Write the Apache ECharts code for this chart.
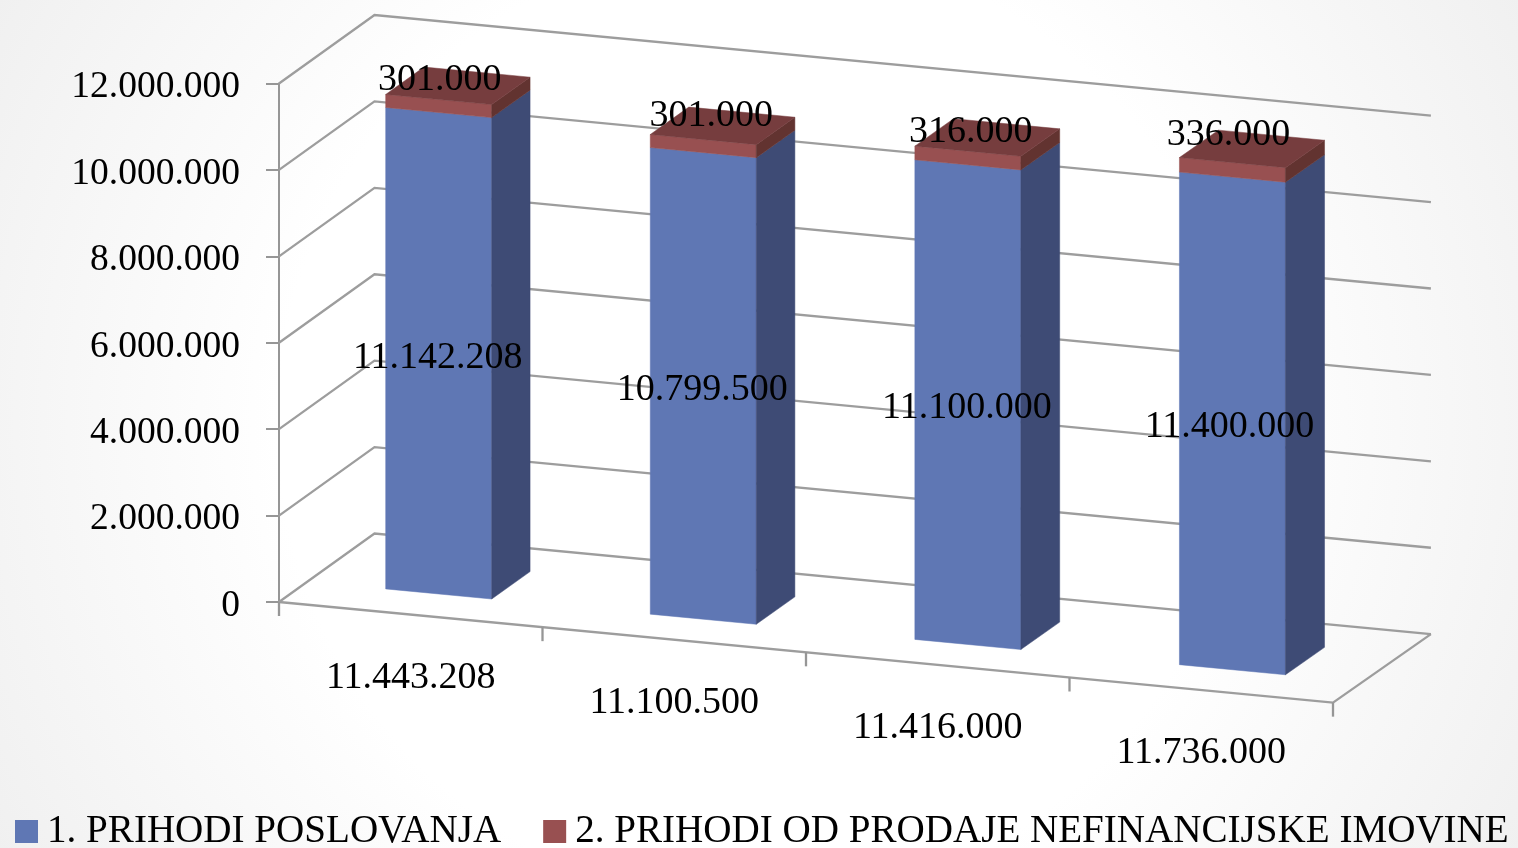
<!DOCTYPE html>
<html>
<head>
<meta charset="utf-8">
<style>html,body{margin:0;padding:0;background:#fff}#c{width:1518px;height:848px}</style>
<script src="https://cdn.jsdelivr.net/npm/echarts@6/dist/echarts.min.js"></script>
</head>
<body>
<div id="c"></div>
<script>
const categories = ['11.443.208', '11.100.500', '11.416.000', '11.736.000'];
const prihodiPoslovanja = [11142208, 10799500, 11100000, 11400000];
const prihodiProdaje = [301000, 301000, 316000, 336000];
const yTicks = [0, 2000000, 4000000, 6000000, 8000000, 10000000, 12000000];
const seriesNames = ['1. PRIHODI POSLOVANJA', '2. PRIHODI OD PRODAJE NEFINANCIJSKE IMOVINE'];

// oblique projection of the 3D look
const SLOPE = 0.0955, DEPTH_X = 95.5, DEPTH_Y = -68.5, PERSP = 0.6, BAR_SPREAD = 1.0034;
const BAR_A = 0.296, BAR_B = 0.698, BAR_D0 = 0.30, BAR_D1 = 0.70;
const FONT = '"Liberation Serif", serif', FS = 38;
const GRID = '#9d9d9d', AXIS = '#969696';
const BLUE = {front:'#5f77b4', side:'#3e4b75'};
const RED = {front:'#985051', side:'#623330', top:'#763d3e'};
const RED_LABEL_NUDGE = [[1,-26],[8,-30],[3,-26],[-4,-35]];
const BLUE_LABEL_NUDGE = [[-1,5],[-1,4],[-1,3],[-3,4]];
const CAT_LABEL_DY = 63;

const fmt = v => String(v).replace(/\B(?=(\d{3})+$)/g, '.');

function projector(api){
  const band = api.size([1,0])[0];
  const left = api.coord([0,0])[0] - band/2;
  return (pos,val,depth) => {
    const p = api.coord([0,val]);
    const x = left + pos*band;
    return [x + (DEPTH_X + PERSP*pos)*depth, p[1] + SLOPE*(x-left) + DEPTH_Y*depth];
  };
}
const poly = (points, fill) => ({type:'polygon', shape:{points}, style:{fill, stroke:fill, lineWidth:0.5}});
const line = (points, stroke) => ({type:'polyline', shape:{points}, style:{stroke:stroke||GRID, lineWidth:2.3, fill:null}});
const text = (s,pt) => ({type:'text', z2:50, style:{text:s, x:pt[0], y:pt[1], fill:'#000', fontFamily:FONT, fontSize:FS, align:'center', verticalAlign:'middle'}});

function wallItem(params, api){
  const P = projector(api), v = api.value(1), n = categories.length;
  const children = [line([P(0,v,0), P(0,v,1), P(n,v,1)])];
  if (v === 0) {
    children.push(line([P(0,0,0), P(n,0,0), P(n,0,1)]));
    for (let i=0;i<=n;i++){ const a=P(i,0,0); children.push(line([a,[a[0],a[1]+14]], AXIS)); }
  }
  return {type:'group', children};
}
function blueItem(params, api){
  const P = projector(api), i = api.value(0), v = api.value(1);
  const a=i*BAR_SPREAD+BAR_A, b=i*BAR_SPREAD+BAR_B;
  const mid = P(i*BAR_SPREAD+(BAR_A+BAR_B)/2, v/2, BAR_D0), n = BLUE_LABEL_NUDGE[i];
  return {type:'group', children:[
    poly([P(a,0,BAR_D0),P(b,0,BAR_D0),P(b,v,BAR_D0),P(a,v,BAR_D0)], BLUE.front),
    poly([P(b,0,BAR_D0),P(b,0,BAR_D1),P(b,v,BAR_D1),P(b,v,BAR_D0)], BLUE.side),
    text(fmt(v), [mid[0]+n[0], mid[1]+n[1]])
  ]};
}
function redItem(params, api){
  const P = projector(api), i = api.value(0), d = api.value(1);
  const v0 = prihodiPoslovanja[i], v1 = v0 + d;
  const a=i*BAR_SPREAD+BAR_A, b=i*BAR_SPREAD+BAR_B;
  const mid = P(i*BAR_SPREAD+(BAR_A+BAR_B)/2, v0+d/2, BAR_D0), n = RED_LABEL_NUDGE[i];
  return {type:'group', children:[
    poly([P(a,v0,BAR_D0),P(b,v0,BAR_D0),P(b,v1,BAR_D0),P(a,v1,BAR_D0)], RED.front),
    poly([P(b,v0,BAR_D0),P(b,v0,BAR_D1),P(b,v1,BAR_D1),P(b,v1,BAR_D0)], RED.side),
    poly([P(a,v1,BAR_D0),P(b,v1,BAR_D0),P(b,v1,BAR_D1),P(a,v1,BAR_D1)], RED.top),
    text(fmt(d), [mid[0]+n[0], mid[1]+n[1]])
  ]};
}
function catLabelItem(params, api){
  const P = projector(api), i = api.value(0);
  const p = P(i+0.5,0,0);
  return text(categories[i], [p[0], p[1]+CAT_LABEL_DY]);
}

const chart = echarts.init(document.getElementById('c'), null, {renderer:'canvas'});
chart.setOption({
  animation:false,
  backgroundColor:{type:'radial', x:0.5, y:0.5, r:1.03, colorStops:[
    {offset:0,color:'#ffffff'},{offset:0.55,color:'#ffffff'},{offset:1,color:'#f0f0f0'}]},
  grid:{left:279, right:185, top:83.5, bottom:246, containLabel:false},
  xAxis:{type:'category', data:categories, axisLine:{show:false}, axisTick:{show:false}, axisLabel:{show:false}, splitLine:{show:false}},
  yAxis:{type:'value', min:0, max:12000000, interval:2000000,
    axisLine:{show:true, lineStyle:{color:AXIS, width:2}},
    axisTick:{show:true, length:13, lineStyle:{color:AXIS, width:2}},
    splitLine:{show:false},
    axisLabel:{margin:39, formatter:v => '{t|' + fmt(v) + '}',
      rich:{t:{color:'#000', fontFamily:FONT, fontSize:37.5, padding:[8,0,0,0]}}}},
  legend:{data:seriesNames, left:15, top:812, width:1503, padding:0, icon:'rect', itemWidth:23, itemHeight:23, itemGap:42,
    textStyle:{color:'#000', fontFamily:FONT, fontSize:39.1, padding:[0,0,0,4]}, selectedMode:false},
  series:[
    {type:'custom', name:'walls', z:1, silent:true, clip:false, renderItem:wallItem,
     data:yTicks.map(v=>[0,v])},
    {type:'custom', name:seriesNames[0], z:2, clip:false, renderItem:blueItem, itemStyle:{color:BLUE.front},
     data:prihodiPoslovanja.map((v,i)=>[i,v])},
    {type:'custom', name:seriesNames[1], z:3, clip:false, renderItem:redItem, itemStyle:{color:RED.front},
     data:prihodiProdaje.map((v,i)=>[i,v])},
    {type:'custom', name:'categoryLabels', z:4, silent:true, clip:false, renderItem:catLabelItem,
     data:categories.map((c,i)=>[i,0])}
  ]
});
</script>
</body>
</html>
